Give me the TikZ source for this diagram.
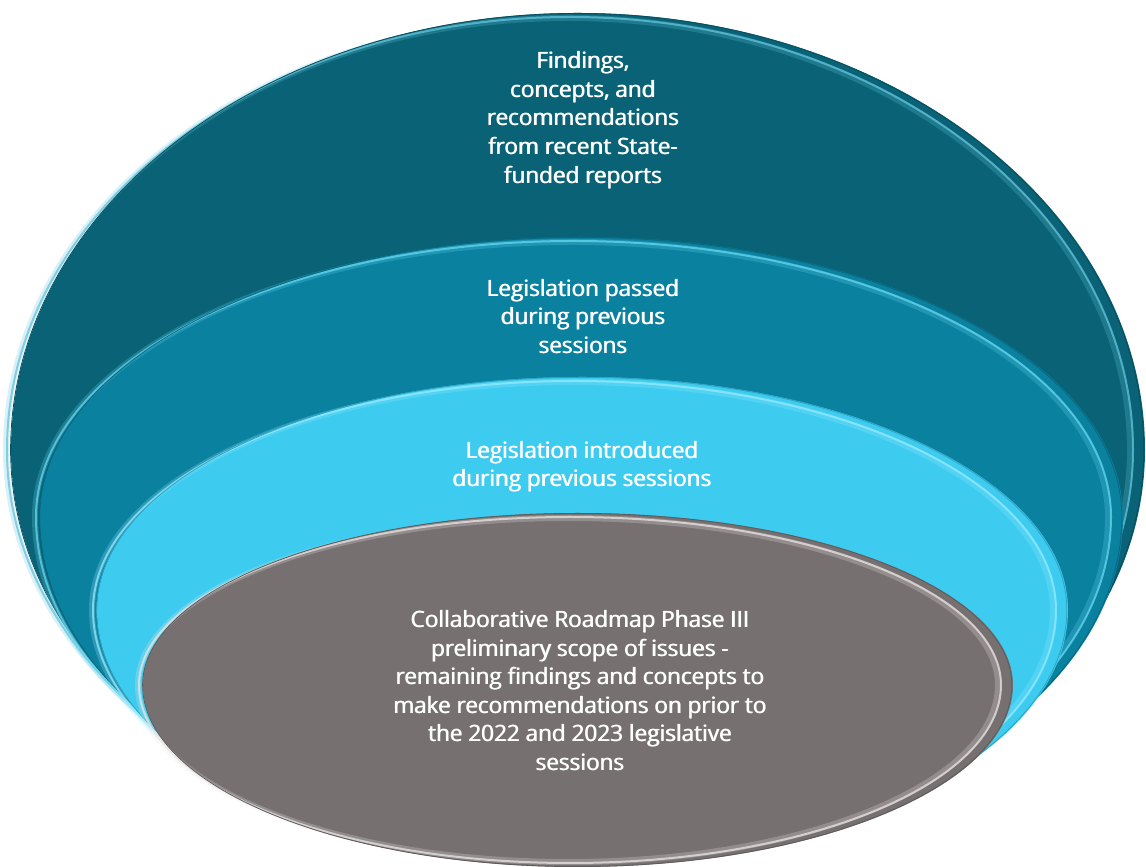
\documentclass[tikz,border=0pt]{standalone}
\usepackage{fontspec}
\setmainfont{Open Sans}
\newfontfamily\labelfont{Open Sans}

% slightly heavier lettering: each line set twice, a hair apart
\newcommand\thk[1]{\rlap{#1}\kern0.8pt#1}

\definecolor{ringA}{RGB}{9,98,117}
\definecolor{ringB}{RGB}{11,129,160}
\definecolor{ringC}{RGB}{61,204,240}
\definecolor{ringD}{RGB}{118,112,113}
\definecolor{glowA}{RGB}{100,195,220}
\definecolor{glowB}{RGB}{100,215,240}
\definecolor{glowC}{RGB}{150,235,255}
\definecolor{glowD}{RGB}{235,230,230}

% egg-shaped outline: centre x, centre y, half width, upper and lower half heights
\newcommand\eggpath[5]{(#1-#3,#2) arc[start angle=180,end angle=0,x radius=#3,y radius=#4]
  arc[start angle=0,end angle=-180,x radius=#3,y radius=#5] -- cycle}

% one bevelled disc
\newcommand\bevdisc[7]{%
  \fill[#6] \eggpath{#1}{#2}{#3}{#4}{#5};
  \draw[#7, line width=6, opacity=0.25] \eggpath{#1}{#2}{#3-5}{#4-5}{#5-5};
  \draw[#7, line width=2, opacity=0.75] \eggpath{#1}{#2}{#3-4}{#4-4}{#5-4};
  \draw[#6!80!black, line width=0.8] \eggpath{#1}{#2}{#3-0.4}{#4-0.4}{#5-0.4};
}

\begin{document}
\begin{tikzpicture}[x=1pt,y=1pt,
  disctext/.style={text=white, font=\labelfont\fontsize{22.5}{28.6}\selectfont,
    align=center, inner sep=0pt}]
\useasboundingbox (0,0) rectangle (1146,867);

\bevdisc{578}{417}{567}{437}{411}{ringA}{glowA}
\bevdisc{581.5}{350}{541.5}{280}{335}{ringB}{glowB}
\bevdisc{582.5}{257}{485.5}{233}{252}{ringC}{glowC}
\bevdisc{578}{182}{435}{172}{182}{ringD}{glowD}

\node[disctext] (outer) at (583,747) {\thk{Findings,}\\\thk{concepts, and}\\\thk{recommendations}\\\thk{from recent State-}\\\thk{funded reports}};
\node[disctext] (passed) at (583,550.5) {\thk{Legislation passed}\\\thk{during previous}\\\thk{sessions}};
\node[disctext] (introduced) at (582,400.5) {\thk{Legislation introduced}\\\thk{during previous sessions}};
\node[disctext] (roadmap) at (580,176.5) {\thk{Collaborative Roadmap Phase III}\\\thk{preliminary scope of issues -}\\\thk{remaining findings and concepts to}\\\thk{make recommendations on prior to}\\\thk{the 2022 and 2023 legislative}\\\thk{sessions}};
\end{tikzpicture}
\end{document}
